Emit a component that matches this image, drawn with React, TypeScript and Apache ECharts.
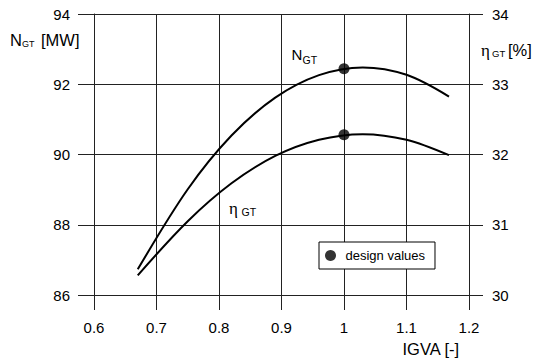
import React, { useEffect, useRef } from "react";
import * as echarts from "echarts";

// Inlet guide vane opening and the gas-turbine response
const igva = [0.67, 0.75, 0.82, 0.89, 0.96, 1.03, 1.1, 1.168];
const powerMW = [86.73, 89.01, 90.54, 91.62, 92.26, 92.48, 92.27, 91.65];
const efficiencyPct = [30.28, 31.05, 31.59, 31.98, 32.21, 32.29, 32.21, 31.99];

// Design operating point
const designIgva = [1.0];
const designPower = [92.44];
const designEfficiency = [32.28];

const FONT = '"Liberation Sans", Arial, sans-serif';
const GREEK = '"Liberation Serif", "Times New Roman", serif';
const GRID_COLOR = "#222";

function txt(x: number, y: number, text: string, size: number, family = FONT) {
  return {
    type: "text",
    x,
    y,
    silent: true,
    style: {
      text,
      fill: "#000",
      font: `${size}px ${family}`,
      align: "left",
      verticalAlign: "middle",
    },
  };
}

export default function App() {
  const ref = useRef<HTMLDivElement>(null);

  useEffect(() => {
    if (!ref.current) return;
    const chart = echarts.init(ref.current, undefined, { renderer: "svg" });

    const lineStyle = { color: GRID_COLOR, width: 1 };
    const labelStyle = { fontSize: 15, fontFamily: FONT, color: "#000" };

    chart.setOption({
      animation: false,
      backgroundColor: "#fff",
      grid: { left: 94, right: 68, top: 14, bottom: 63 },
      xAxis: {
        type: "value",
        min: 0.6,
        max: 1.2,
        interval: 0.1,
        axisLine: { show: true, lineStyle },
        axisTick: { show: true, length: 15, lineStyle },
        splitLine: { show: true, lineStyle },
        axisLabel: { ...labelStyle, margin: 25 },
      },
      yAxis: [
        {
          type: "value",
          position: "left",
          min: 86,
          max: 94,
          interval: 2,
          axisLine: { show: true, lineStyle },
          axisTick: { show: true, length: 16, lineStyle },
          splitLine: { show: true, lineStyle },
          axisLabel: { ...labelStyle, margin: 24 },
        },
        {
          type: "value",
          position: "right",
          min: 30,
          max: 34,
          interval: 1,
          axisLine: { show: true, lineStyle },
          axisTick: { show: true, length: 14, lineStyle },
          splitLine: { show: false },
          axisLabel: { ...labelStyle, margin: 23 },
        },
      ],
      legend: {
        data: [{ name: "design values", icon: "circle" }],
        left: 319,
        top: 242,
        itemWidth: 20,
        itemHeight: 11,
        padding: [7, 10, 7, 6],
        borderColor: "#000",
        borderWidth: 1,
        backgroundColor: "#fff",
        selectedMode: false,
        textStyle: { fontSize: 13, fontFamily: FONT, color: "#000" },
      },
      series: [
        {
          type: "line",
          name: "N_GT",
          yAxisIndex: 0,
          smooth: 0.33,
          showSymbol: false,
          symbol: "none",
          lineStyle: { color: "#000", width: 2 },
          data: igva.map((x, i) => [x, powerMW[i]]),
          z: 3,
        },
        {
          type: "line",
          name: "eta_GT",
          yAxisIndex: 1,
          smooth: 0.33,
          showSymbol: false,
          symbol: "none",
          lineStyle: { color: "#000", width: 2 },
          data: igva.map((x, i) => [x, efficiencyPct[i]]),
          z: 3,
        },
        {
          type: "scatter",
          name: "design values",
          yAxisIndex: 0,
          symbol: "circle",
          symbolSize: 11,
          itemStyle: { color: "#000" },
          data: designIgva.map((x, i) => [x, designPower[i]]),
          z: 4,
        },
        {
          type: "scatter",
          name: "design values",
          yAxisIndex: 1,
          symbol: "circle",
          symbolSize: 11,
          itemStyle: { color: "#000" },
          data: designIgva.map((x, i) => [x, designEfficiency[i]]),
          z: 4,
        },
      ],
      graphic: [
        // left axis name: N_GT [MW]
        txt(10, 40, "N", 16.5),
        txt(22, 43.5, "GT", 9),
        txt(41, 40, "[MW]", 16.5),
        // right axis name: η GT [%]
        txt(481, 50, "η", 17, GREEK),
        txt(492, 53, "GT", 9.5),
        txt(508, 49.5, "[%]", 16.5),
        // x axis name
        txt(402.5, 348.5, "IGVA [-]", 16.5),
        // curve labels
        txt(291.5, 54, "N", 15),
        txt(302.5, 60, "GT", 10.5),
        txt(229, 208, "η", 17, GREEK),
        txt(241.5, 212, "GT", 10.5),
      ],
    });

    return () => chart.dispose();
  }, []);

  return (
    <div
      ref={ref}
      style={{ position: "fixed", left: 0, top: 0, width: 537, height: 358 }}
    />
  );
}
